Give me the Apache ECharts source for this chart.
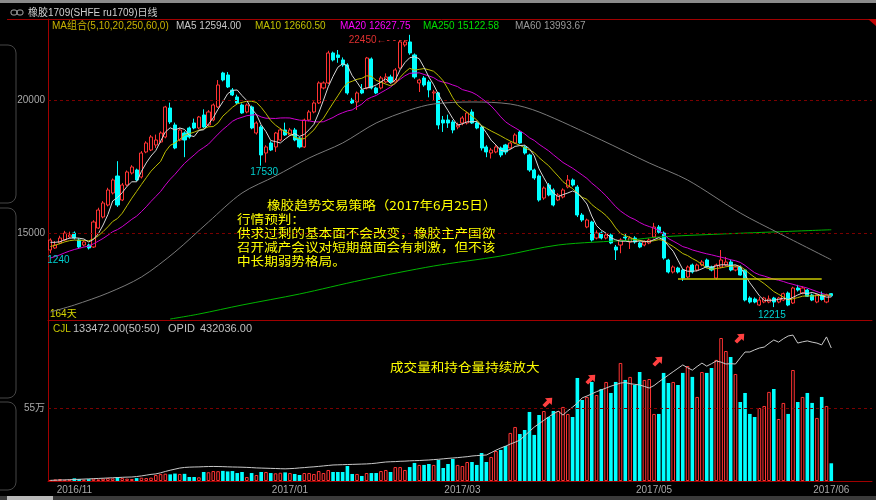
<!DOCTYPE html>
<html>
<head>
<meta charset="utf-8">
<script src="https://cdn.jsdelivr.net/npm/echarts/dist/echarts.min.js"></script>
<style>
html,body{margin:0;padding:0;background:#000;}
#chart{width:876px;height:500px;}
</style>
</head>
<body>
<div id="chart"></div>
<script>
// ru1709 daily bars, oldest first
const opens = [14361,14436,14624,14737,14850,15000,14737,14549,14549,14474,
15188,15602,16053,16504,17143,16241,16805,17256,17369,17106,
18046,18121,18309,18422,18610,19700,19061,18497,18760,18948,
19136,18948,19437,19061,19249,19738,21016,20941,20377,20114,
19813,19550,19738,18760,18986,18008,18384,18234,18497,18873,
18685,18873,18572,18234,19249,19550,19888,20452,20640,21768,
21693,21505,21317,20000,19926,20377,20452,21542,20452,20452,
20678,20866,20678,21204,22069,22182,21693,20640,20828,20678,
20264,20264,19249,19249,19174,18986,19136,19136,19550,19136,
18986,18234,18008,18046,18196,18309,18196,18384,18797,18234,
17933,17369,17143,16316,16805,16617,16241,16354,16730,16993,
16730,15677,15226,15414,14812,15000,14812,14925,14474,14549,
14850,14662,14812,14624,14549,14624,14850,15226,15000,13985,
13534,13684,13609,13346,13797,13609,13797,13985,13722,13308,
13722,13797,13910,13609,13722,13609,12556,12520,12293,12406,
12406,12556,12406,12481,12744,12368,12932,12744,12857,12669,
12406,12669,12406,12720];
const closes = [14737,14549,14812,15000,14925,14812,14474,14662,14436,15414,
15865,16128,16617,16993,16053,16805,17294,17482,16993,18008,
18384,18610,18497,18760,19738,19174,18196,18873,18497,18610,
18948,19362,18986,19550,19813,20565,20753,20490,20189,19888,
19512,19813,18948,19136,17933,18234,18121,18760,18873,18685,
18873,18497,18234,19249,19550,19888,20640,20640,21768,21505,
21600,21317,20264,19888,20264,20264,21580,20452,20264,20828,
20866,20678,21129,22182,22182,21768,20866,20753,20565,20377,
20302,19061,19136,19136,18873,19061,19324,19512,19136,18948,
18196,18046,18121,18234,17933,18046,18384,18685,18384,18008,
17369,17068,16241,16692,16429,16053,16429,16617,16993,16805,
15677,15489,15489,14737,15000,14812,14925,14624,14361,14737,
14812,14812,14662,14474,14662,14737,15226,15028,14060,13534,
13722,13534,13308,13722,13534,13797,13910,13722,13609,13797,
13985,13910,13609,13722,13420,12481,12406,12406,12480,12556,
12520,12406,12556,12719,12293,12932,12857,12932,12621,12480,
12680,12500,12669,12641];
const lows = [14240,14400,14580,14700,14800,14760,14430,14500,14380,14440,
15150,15550,16000,16450,15980,16200,16750,17200,16950,17050,
18000,18080,18200,18380,18560,19100,18150,18450,17850,18550,
18900,18900,18950,19000,19200,19700,20700,20450,20150,19850,
19480,19500,18900,18700,17530,17650,18080,18050,18450,18650,
18650,18450,18180,18200,19200,19500,19850,20400,20600,21450,
21400,21250,20200,19850,19625,20220,20400,20400,20220,20400,
20640,20640,20640,21150,22000,21700,20800,20300,20500,20100,
20000,18900,18800,18950,18750,18900,19050,19080,19100,18900,
18100,17850,17800,18000,17850,17950,18150,18350,18350,17950,
17300,17000,16180,16250,16380,16000,16200,16300,16680,16750,
15600,15420,15180,14680,14760,14760,14760,14580,13985,14240,
14700,14400,14600,14430,14500,14580,14800,14980,14000,13480,
13480,13480,13200,13300,13480,13560,13750,13680,13560,13250,
13680,13750,13560,13560,13400,12430,12350,12360,12260,12360,
12360,12215,12360,12440,12250,12330,12800,12700,12600,12440,
12360,12460,12360,12600];
const highs = [14800,14700,14900,15080,15050,15060,14800,14720,14600,15480,
15950,16200,16700,17050,17700,16880,17350,17550,17420,18080,
18450,18680,18700,18820,19780,19900,19150,18950,18820,19000,
19300,19400,19650,19620,19870,20750,21060,21050,20450,20200,
19870,19870,19790,19200,19050,18300,18450,18800,18950,19150,
18950,18950,18620,19300,19620,19950,20700,20700,21850,21820,
21880,21600,21380,20080,20320,20600,21620,21600,20500,20900,
21000,20950,21200,22250,22250,22450,21750,20800,20900,20750,
20380,20300,19400,19450,19250,19150,19400,19560,19650,19200,
19050,18300,18200,18300,18250,18350,18450,18750,18850,18300,
17980,17420,17200,16750,16880,16680,16500,16680,17180,17050,
16800,15750,15540,15460,15100,15060,14980,14980,14550,14800,
15000,14880,14880,14680,14720,14800,15380,15300,15060,14030,
13780,13730,13650,13780,13850,13850,13980,14040,13770,13850,
14360,14100,14000,13780,13780,13650,12620,12580,12600,12600,
12650,12600,12600,12760,12800,12980,13050,13000,12900,12720,
12720,12800,12720,12740];
// closes before the first bar, used only to seed the short averages
const priorCloses = [13450,13520,13480,13600,13650,13580,13700,13760,13680,13880,
14050,14200,14350,14480,14570,14560,14700,14620,14640];
// traded volume (CJL)
const volumes = [8000,12000,15000,10000,12000,20000,15000,10000,14000,18000,
12000,18000,22000,20000,30000,22000,18000,15000,22000,25000,
22000,25000,45000,52000,55000,50000,56000,53000,54000,30000,
30000,28000,68000,66000,75000,74000,76000,72000,75000,60000,
68000,30000,60000,45000,68000,68000,60000,58000,62000,65000,
60000,53000,45000,60000,60000,53000,75000,60000,83000,68000,
68000,68000,113000,53000,53000,38000,60000,60000,60000,75000,
83000,68000,105000,105000,83000,105000,136000,121000,121000,128000,
121000,158000,98000,128000,166000,121000,113000,143000,143000,121000,
211000,143000,181000,226000,234000,264000,362000,407000,354000,384000,
520000,347000,497000,527000,482000,527000,527000,558000,505000,482000,
776000,610000,633000,746000,648000,693000,746000,663000,746000,889000,
761000,784000,723000,821000,761000,768000,505000,505000,814000,738000,
746000,723000,814000,866000,784000,633000,821000,814000,851000,912000,
1077000,979000,934000,806000,595000,663000,505000,482000,550000,565000,
671000,693000,467000,588000,505000,836000,595000,633000,663000,588000,
475000,633000,565000,133472];
// open interest (OPID)
const openInterest = [2000,2600,3100,3600,4200,4800,5500,6200,6900,7600,
8300,9000,9800,10500,11200,12000,12600,13000,14500,16500,
19000,21500,23000,26500,31000,35000,38500,42000,44000,45000,
45500,45800,46500,47000,47200,47000,46600,46000,45500,45200,
44800,44200,43500,42500,42000,41500,41000,40600,40000,39500,
40200,41000,42500,43500,45000,46000,47500,49000,50500,52000,
52500,53000,53500,54000,54500,55000,55500,56500,58000,60000,
61700,62500,63000,64000,64500,65500,66000,66500,67500,68200,
69500,70500,72000,73500,74700,76000,77500,79000,81200,82500,
83500,84400,92000,100000,107000,113000,120000,126000,133000,147000,
161000,175000,186000,197000,208000,218000,227000,214000,228000,240000,
253000,270000,276000,283000,290000,296000,302000,308000,313000,318000,
320000,316000,314000,312000,307000,302000,310000,322000,333000,344000,
355000,366000,377000,368000,360000,372000,383000,373000,381000,390000,
386000,380000,381000,380000,400000,419000,419000,426000,432000,435000,
447000,458000,451000,462000,471000,474000,448000,452000,455000,451000,
448000,442000,468000,432036];
// long averages (60 / 250 days) read at selected bars
const ma60Idx = [0,5,12,19,26,33,40,47,54,61,68,75,80,88,96,102,115,125,133,144,152,163];
const ma60Val = [12030,12293,12744,13346,14286,15414,16504,17143,17820,18384,19136,19625,19850,19926,19850,19550,18497,17632,16993,15752,15000,13993.67];
const ma250Idx = [25,31,40,52,65,80,94,106,121,127,140,163];
const ma250Val = [11766,11954,12293,12707,13233,13759,14135,14549,14737,14850,14962,15122.58];
// date ticks on the bottom axis
const tickIdx = [5,50,86,126,163];
const tickLabels = ['2016/11','2017/01','2017/03','2017/05','2017/06'];
const slotCount = 172;

const RED = '#ff3333', CYAN = '#00ffff', BORDER = '#a00000', GRID_DASH = '#7a0000';
const LATIN = '"Liberation Sans","Noto Sans CJK SC",sans-serif';
const CJK = '"Noto Sans CJK SC",sans-serif';

function movingAvg(n) {
  const all = priorCloses.concat(closes);
  const off = priorCloses.length;
  return closes.map((_, i) => {
    let s = 0;
    for (let k = 0; k < n; k++) s += all[off + i - k];
    return s / n;
  });
}
const ma5 = movingAvg(5), ma10 = movingAvg(10), ma20 = movingAvg(20);
const last = closes.length - 1;
const ma60Last = (() => { let s = 0; for (let k = 0; k < 60; k++) s += closes[last - k]; return s / 60; })();

const cats = Array.from({length: slotCount}, (_, i) => String(i));
const candles = closes.map((c, i) => [opens[i], c, lows[i], highs[i]]);
const volBars = volumes.map((v, i) => {
  const up = closes[i] >= opens[i];
  return { value: v, itemStyle: up ? { color: '#000', borderColor: RED, borderWidth: 1 } : { color: CYAN, borderColor: CYAN, borderWidth: 0 } };
});

function txt(x, y, text, fill, size, family) {
  return { type: 'text', silent: true, style: { x, y, text, fill, font: size + 'px ' + family, verticalAlign: 'middle', align: 'left' } };
}
// note lines: full-size glyphs squeezed a little vertically to fit the tight line pitch
function note(x, y, text) {
  return { type: 'text', silent: true, x, y, scaleY: 0.9,
    style: { x: 0, y: 0, text, fill: '#ffff00', font: '13.6px ' + CJK, verticalAlign: 'middle', align: 'left' } };
}
function arrow(x, y) {
  return { type: 'polygon', x, y, rotation: Math.PI / 4, silent: true,
    shape: { points: [[-6,-1.9],[0.5,-1.9],[0.5,-4.8],[6,0],[0.5,4.8],[0.5,1.9],[-6,1.9]] },
    style: { fill: '#ff4040' } };
}
function tab(y, h) {
  return { type: 'rect', silent: true, shape: { x: -14, y, width: 30, height: h, r: 8 },
    style: { fill: 'none', stroke: '#464646', lineWidth: 1 } };
}

const chart = echarts.init(document.getElementById('chart'), null, { renderer: 'canvas' });
chart.setOption({
  backgroundColor: '#000',
  animation: false,
  grid: [
    { left: 48, right: 4, top: 19, height: 301 },
    { left: 48, right: 4, top: 321, height: 160 }
  ],
  xAxis: [
    { type: 'category', gridIndex: 0, data: cats, axisTick: { show: false }, axisLabel: { show: false },
      axisLine: { lineStyle: { color: BORDER } }, splitLine: { show: false } },
    { type: 'category', gridIndex: 1, data: cats, axisTick: { show: false },
      axisLine: { lineStyle: { color: BORDER } }, splitLine: { show: false },
      axisLabel: { interval: (idx) => tickIdx.indexOf(idx) >= 0, formatter: (v, idx) => tickLabels[tickIdx.indexOf(idx)] || '',
        color: '#a8a8a8', fontSize: 10, fontFamily: 'Liberation Sans', margin: 4 } }
  ],
  yAxis: [
    { type: 'value', gridIndex: 0, min: 11730, max: 23045, axisLabel: { show: false }, splitLine: { show: false },
      axisTick: { show: false }, axisLine: { show: true, lineStyle: { color: BORDER } } },
    { type: 'value', gridIndex: 1, min: 0, max: 1205000, axisLabel: { show: false }, splitLine: { show: false },
      axisTick: { show: false }, axisLine: { show: true, lineStyle: { color: BORDER } } },
    { type: 'value', gridIndex: 1, min: 0, max: 519700, show: false }
  ],
  series: [
    { type: 'candlestick', name: 'K', xAxisIndex: 0, yAxisIndex: 0, data: candles, barWidth: 3.6, clip: true,
      itemStyle: { color: '#000', color0: CYAN, borderColor: RED, borderColor0: CYAN, borderWidth: 1 },
      markLine: { symbol: ['none', 'none'], silent: true, animation: false,
        lineStyle: { color: GRID_DASH, type: [3, 3], width: 1 },
        label: { position: 'start', distance: 3, color: '#a8a8a8', fontSize: 10, fontFamily: 'Liberation Sans', formatter: (p) => String(p.value) },
        data: [
          { yAxis: 20000 },
          { yAxis: 15000 },
          [ { coord: [131, 13270], lineStyle: { color: '#c8c800', type: 'solid', width: 1.5 }, label: { show: false } }, { coord: [161, 13270] } ]
        ] },
      markPoint: { symbol: 'circle', symbolSize: 1, silent: true, itemStyle: { color: 'rgba(0,0,0,0)' },
        data: [
          { coord: [75, 22450], label: { show: true, formatter: '22450\u2190- - - -', position: 'left', distance: 1, offset: [0, 5], color: '#e03030', fontSize: 10, fontFamily: LATIN } },
          { coord: [44, 17530], label: { show: true, formatter: '17530', position: 'bottom', distance: 1, offset: [3, 0], color: '#00d0d0', fontSize: 10, fontFamily: LATIN } },
          { coord: [151, 12215], label: { show: true, formatter: '12215', position: 'bottom', distance: 3, offset: [-2, 0], color: '#00d0d0', fontSize: 10, fontFamily: LATIN } },
          { coord: [0, 14240], label: { show: true, formatter: '1240', position: 'bottom', distance: 2, offset: [8, 0], color: '#00d0d0', fontSize: 10, fontFamily: LATIN } }
        ] } },
    { type: 'line', name: 'MA250', xAxisIndex: 0, yAxisIndex: 0, data: ma250Idx.map((k, j) => [k, ma250Val[j]]),
      showSymbol: false, smooth: 0.3, lineStyle: { color: '#00b400', width: 1 }, clip: true },
    { type: 'line', name: 'MA60', xAxisIndex: 0, yAxisIndex: 0, data: ma60Idx.map((k, j) => [k, ma60Val[j]]),
      showSymbol: false, smooth: 0.3, lineStyle: { color: '#7a7a7a', width: 1 }, clip: true },
    { type: 'line', name: 'MA20', xAxisIndex: 0, yAxisIndex: 0, data: ma20, showSymbol: false,
      lineStyle: { color: '#d000d0', width: 1 } },
    { type: 'line', name: 'MA10', xAxisIndex: 0, yAxisIndex: 0, data: ma10, showSymbol: false,
      lineStyle: { color: '#bcbc00', width: 1 } },
    { type: 'line', name: 'MA5', xAxisIndex: 0, yAxisIndex: 0, data: ma5, showSymbol: false,
      lineStyle: { color: '#d8d8d8', width: 1 } },
    { type: 'bar', name: 'CJL', xAxisIndex: 1, yAxisIndex: 1, data: volBars, barWidth: 3.6,
      markLine: { symbol: ['none', 'none'], silent: true,
        lineStyle: { color: GRID_DASH, type: [3, 3], width: 1 },
        label: { position: 'start', distance: 3, color: '#a8a8a8', fontSize: 10, fontFamily: LATIN, formatter: '55万' },
        data: [ { yAxis: 550000 } ] } },
    { type: 'line', name: 'OPID', xAxisIndex: 1, yAxisIndex: 2, data: openInterest, showSymbol: false,
      lineStyle: { color: '#c8c8c8', width: 1 } }
  ],
  graphic: [
    { type: 'rect', silent: true, shape: { x: 0, y: 0, width: 876, height: 3 }, style: { fill: '#8a8a8a' } },
    tab(45, 158), tab(208, 190), tab(402, 88),
    { type: 'rect', silent: true, shape: { x: 11, y: 10, width: 6, height: 5, r: 2 }, style: { fill: 'none', stroke: '#a8a8a8', lineWidth: 1 } },
    { type: 'rect', silent: true, shape: { x: 17, y: 10, width: 6, height: 5, r: 2 }, style: { fill: 'none', stroke: '#a8a8a8', lineWidth: 1 } },
    txt(28, 13, '橡胶1709(SHFE ru1709)日线', '#d0d0d0', 10, LATIN),
    { type: 'line', silent: true, shape: { x1: 7, y1: 19.5, x2: 876, y2: 19.5 }, style: { stroke: BORDER, lineWidth: 1 } },
    { type: 'polygon', silent: true, shape: { points: [[868, 19], [876, 19], [876, 26]] }, style: { fill: '#c00000' } },
    txt(52, 26, 'MA组合(5,10,20,250,60,0)', '#c8b400', 10, LATIN),
    txt(176, 26, 'MA5 ' + ma5[last].toFixed(2), '#c8c8c8', 10, LATIN),
    txt(255, 26, 'MA10 ' + ma10[last].toFixed(2), '#c0c000', 10, LATIN),
    txt(340, 26, 'MA20 ' + ma20[last].toFixed(2), '#ff00ff', 10, LATIN),
    txt(423, 26, 'MA250 ' + ma250Val[ma250Val.length - 1].toFixed(2), '#00e000', 10, LATIN),
    txt(515, 26, 'MA60 ' + ma60Last.toFixed(2), '#9a9a9a', 10, LATIN),
    txt(50, 314, '164天', '#d8d800', 10, LATIN),
    note(267, 205, '橡胶趋势交易策略（2017年6月25日）'),
    note(237, 219, '行情预判：'),
    note(237, 233, '供求过剩的基本面不会改变，橡胶主产国欲'),
    note(237, 247, '召开减产会议对短期盘面会有刺激，但不该'),
    note(237, 261, '中长期弱势格局。'),
    txt(53, 329, 'CJL', '#c8c800', 10, LATIN),
    txt(73, 329, volumes[last].toFixed(2) + '(50:50)', '#c0c0c0', 11, LATIN),
    txt(168, 329, 'OPID', '#c0c0c0', 11, LATIN),
    txt(200, 329, openInterest[last].toFixed(2), '#c0c0c0', 11, LATIN),
    note(390, 367, '成交量和持仓量持续放大'),
    arrow(548, 402), arrow(591, 379), arrow(658, 361), arrow(740, 338),
    { type: 'rect', silent: true, shape: { x: 0, y: 496, width: 876, height: 4 }, style: { fill: '#3a3a3a' } },
    { type: 'rect', silent: true, shape: { x: 7, y: 496, width: 46, height: 4 }, style: { fill: '#b8b8b8' } }
  ]
});
</script>
</body>
</html>
